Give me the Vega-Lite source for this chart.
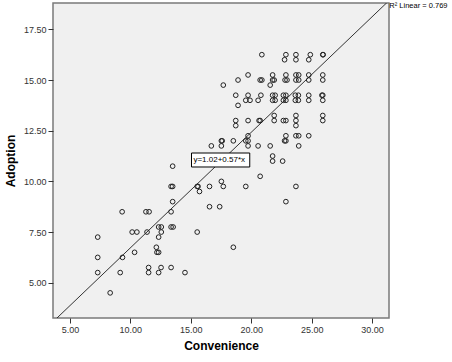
{
  "$schema": "https://vega.github.io/schema/vega-lite/v6.json",
  "autosize": {"type": "none"},
  "width": 336,
  "height": 315,
  "padding": {"left": 53, "top": 3, "right": 63, "bottom": 44},
  "background": "white",
  "config": {
    "view": {"fill": "#F0F0F0", "stroke": "#7a7a7a", "strokeWidth": 1.5},
    "font": "Liberation Sans",
    "axis": {
      "grid": false,
      "domain": false,
      "tickColor": "#333333",
      "tickSize": 5,
      "labelFont": "Liberation Sans",
      "labelFontSize": 9,
      "labelColor": "#333333",
      "labelPadding": 2,
      "titleFont": "Liberation Sans",
      "titleFontSize": 12,
      "titleFontWeight": "bold",
      "titleColor": "#000000"
    }
  },
  "datasets": {
    "pts": [
      {"Convenience": 20.88, "Adoption": 16.25}, {"Convenience": 22.87, "Adoption": 16.25}, {"Convenience": 23.70, "Adoption": 16.25}, {"Convenience": 24.89, "Adoption": 16.25}, {"Convenience": 25.92, "Adoption": 16.25}, {"Convenience": 25.95, "Adoption": 16.25},
      {"Convenience": 22.76, "Adoption": 16.0}, {"Convenience": 23.70, "Adoption": 16.0}, {"Convenience": 24.76, "Adoption": 16.0},
      {"Convenience": 19.74, "Adoption": 15.25}, {"Convenience": 21.77, "Adoption": 15.25}, {"Convenience": 22.87, "Adoption": 15.25}, {"Convenience": 23.70, "Adoption": 15.25}, {"Convenience": 23.93, "Adoption": 15.25}, {"Convenience": 24.76, "Adoption": 15.25}, {"Convenience": 25.92, "Adoption": 15.25},
      {"Convenience": 18.91, "Adoption": 15.0}, {"Convenience": 20.74, "Adoption": 15.0}, {"Convenience": 20.88, "Adoption": 15.0}, {"Convenience": 21.77, "Adoption": 15.0}, {"Convenience": 21.90, "Adoption": 15.0}, {"Convenience": 22.80, "Adoption": 15.0}, {"Convenience": 22.96, "Adoption": 15.0}, {"Convenience": 23.70, "Adoption": 15.0}, {"Convenience": 23.93, "Adoption": 15.0}, {"Convenience": 24.76, "Adoption": 15.0}, {"Convenience": 25.92, "Adoption": 15.0},
      {"Convenience": 17.69, "Adoption": 14.75}, {"Convenience": 21.57, "Adoption": 14.75},
      {"Convenience": 18.72, "Adoption": 14.25}, {"Convenience": 19.74, "Adoption": 14.25}, {"Convenience": 20.80, "Adoption": 14.25}, {"Convenience": 21.77, "Adoption": 14.25}, {"Convenience": 21.98, "Adoption": 14.25}, {"Convenience": 22.66, "Adoption": 14.25}, {"Convenience": 22.87, "Adoption": 14.25}, {"Convenience": 23.65, "Adoption": 14.25}, {"Convenience": 23.90, "Adoption": 14.25}, {"Convenience": 24.76, "Adoption": 14.25}, {"Convenience": 25.85, "Adoption": 14.25}, {"Convenience": 25.92, "Adoption": 14.25},
      {"Convenience": 19.55, "Adoption": 14.0}, {"Convenience": 19.90, "Adoption": 14.0}, {"Convenience": 20.57, "Adoption": 14.0}, {"Convenience": 21.77, "Adoption": 14.0}, {"Convenience": 21.98, "Adoption": 14.0}, {"Convenience": 22.66, "Adoption": 14.0}, {"Convenience": 22.87, "Adoption": 14.0}, {"Convenience": 23.65, "Adoption": 14.0}, {"Convenience": 23.90, "Adoption": 14.0}, {"Convenience": 24.76, "Adoption": 14.0}, {"Convenience": 25.92, "Adoption": 14.0},
      {"Convenience": 18.91, "Adoption": 13.75},
      {"Convenience": 21.90, "Adoption": 13.25}, {"Convenience": 23.70, "Adoption": 13.25}, {"Convenience": 25.92, "Adoption": 13.25},
      {"Convenience": 18.72, "Adoption": 13.0}, {"Convenience": 19.74, "Adoption": 13.0}, {"Convenience": 20.65, "Adoption": 13.0}, {"Convenience": 20.74, "Adoption": 13.0}, {"Convenience": 21.90, "Adoption": 13.0}, {"Convenience": 22.66, "Adoption": 13.0}, {"Convenience": 22.87, "Adoption": 13.0}, {"Convenience": 23.70, "Adoption": 13.0}, {"Convenience": 25.92, "Adoption": 13.0},
      {"Convenience": 18.72, "Adoption": 12.75}, {"Convenience": 23.70, "Adoption": 12.75},
      {"Convenience": 19.74, "Adoption": 12.25}, {"Convenience": 22.87, "Adoption": 12.25}, {"Convenience": 23.70, "Adoption": 12.25}, {"Convenience": 23.93, "Adoption": 12.25}, {"Convenience": 24.76, "Adoption": 12.25},
      {"Convenience": 17.53, "Adoption": 12.0}, {"Convenience": 17.60, "Adoption": 12.0}, {"Convenience": 18.52, "Adoption": 12.0}, {"Convenience": 19.55, "Adoption": 12.0}, {"Convenience": 19.74, "Adoption": 12.0}, {"Convenience": 22.76, "Adoption": 12.0}, {"Convenience": 22.87, "Adoption": 12.0},
      {"Convenience": 16.70, "Adoption": 11.75}, {"Convenience": 17.53, "Adoption": 11.75}, {"Convenience": 19.74, "Adoption": 11.75}, {"Convenience": 20.57, "Adoption": 11.75}, {"Convenience": 21.57, "Adoption": 11.75}, {"Convenience": 23.93, "Adoption": 11.75},
      {"Convenience": 21.77, "Adoption": 11.25},
      {"Convenience": 21.77, "Adoption": 11.0}, {"Convenience": 22.60, "Adoption": 11.0},
      {"Convenience": 13.50, "Adoption": 10.75},
      {"Convenience": 20.74, "Adoption": 10.25},
      {"Convenience": 17.53, "Adoption": 10.0},
      {"Convenience": 13.37, "Adoption": 9.75}, {"Convenience": 13.50, "Adoption": 9.75}, {"Convenience": 15.53, "Adoption": 9.75}, {"Convenience": 15.60, "Adoption": 9.75}, {"Convenience": 16.55, "Adoption": 9.75}, {"Convenience": 17.69, "Adoption": 9.75}, {"Convenience": 19.55, "Adoption": 9.75}, {"Convenience": 23.70, "Adoption": 9.75},
      {"Convenience": 15.72, "Adoption": 9.5},
      {"Convenience": 13.50, "Adoption": 9.0}, {"Convenience": 22.87, "Adoption": 9.0},
      {"Convenience": 16.55, "Adoption": 8.75}, {"Convenience": 17.39, "Adoption": 8.75},
      {"Convenience": 9.32, "Adoption": 8.5}, {"Convenience": 11.29, "Adoption": 8.5}, {"Convenience": 11.55, "Adoption": 8.5}, {"Convenience": 13.37, "Adoption": 8.5},
      {"Convenience": 12.34, "Adoption": 7.75}, {"Convenience": 12.56, "Adoption": 7.75}, {"Convenience": 13.37, "Adoption": 7.75}, {"Convenience": 13.54, "Adoption": 7.75},
      {"Convenience": 10.15, "Adoption": 7.5}, {"Convenience": 10.54, "Adoption": 7.5}, {"Convenience": 11.38, "Adoption": 7.5}, {"Convenience": 12.56, "Adoption": 7.5}, {"Convenience": 15.53, "Adoption": 7.5},
      {"Convenience": 7.30, "Adoption": 7.25}, {"Convenience": 12.34, "Adoption": 7.25},
      {"Convenience": 12.15, "Adoption": 6.75}, {"Convenience": 18.52, "Adoption": 6.75},
      {"Convenience": 10.35, "Adoption": 6.5}, {"Convenience": 12.20, "Adoption": 6.5}, {"Convenience": 12.34, "Adoption": 6.5},
      {"Convenience": 7.30, "Adoption": 6.25}, {"Convenience": 9.35, "Adoption": 6.25},
      {"Convenience": 11.51, "Adoption": 5.75}, {"Convenience": 12.54, "Adoption": 5.75}, {"Convenience": 13.37, "Adoption": 5.75},
      {"Convenience": 7.30, "Adoption": 5.5}, {"Convenience": 9.16, "Adoption": 5.5}, {"Convenience": 11.51, "Adoption": 5.5}, {"Convenience": 12.34, "Adoption": 5.5}, {"Convenience": 14.52, "Adoption": 5.5},
      {"Convenience": 8.33, "Adoption": 4.5}
    ],
    "fit": [
      {"Convenience": 3.6, "Adoption": 3.072},
      {"Convenience": 31.4, "Adoption": 18.918}
    ],
    "eqbox": [
      {"x1": 15.06, "x2": 19.88, "y1": 10.71, "y2": 11.40, "xc": 15.22, "yc": 11.05, "label": "y=1.02+0.57*x"}
    ],
    "r2": [
      {"x": 31.43, "y": 18.83, "label": "R² Linear = 0.769"}
    ]
  },
  "layer": [
    {
      "data": {"name": "fit"},
      "mark": {"type": "line", "color": "#333333", "strokeWidth": 1, "clip": true},
      "encoding": {
        "x": {"field": "Convenience", "type": "quantitative",
              "scale": {"domain": [3.6, 31.4], "nice": false, "zero": false},
              "axis": {"values": [5, 10, 15, 20, 25, 30], "format": ".2f", "title": "Convenience", "titlePadding": 6}},
        "y": {"field": "Adoption", "type": "quantitative",
              "scale": {"domain": [3.26, 18.8], "nice": false, "zero": false},
              "axis": {"values": [5, 7.5, 10, 12.5, 15, 17.5], "format": ".2f", "title": "Adoption", "titlePadding": 6}}
      }
    },
    {
      "data": {"name": "pts"},
      "mark": {"type": "point", "shape": "circle", "filled": false, "size": 22, "stroke": "#222222", "strokeWidth": 1, "opacity": 1},
      "encoding": {
        "x": {"field": "Convenience", "type": "quantitative"},
        "y": {"field": "Adoption", "type": "quantitative"}
      }
    },
    {
      "data": {"name": "eqbox"},
      "mark": {"type": "rect", "fill": "white", "stroke": "#000000", "strokeWidth": 1},
      "encoding": {
        "x": {"field": "x1", "type": "quantitative"},
        "x2": {"field": "x2"},
        "y": {"field": "y1", "type": "quantitative"},
        "y2": {"field": "y2"}
      }
    },
    {
      "data": {"name": "eqbox"},
      "mark": {"type": "text", "align": "left", "baseline": "middle", "fontSize": 8, "font": "Liberation Sans", "color": "#000000"},
      "encoding": {
        "x": {"field": "xc", "type": "quantitative"},
        "y": {"field": "yc", "type": "quantitative"},
        "text": {"field": "label"}
      }
    },
    {
      "data": {"name": "r2"},
      "mark": {"type": "text", "align": "left", "baseline": "top", "fontSize": 7.5, "font": "Liberation Sans", "color": "#000000", "clip": false},
      "encoding": {
        "x": {"field": "x", "type": "quantitative"},
        "y": {"field": "y", "type": "quantitative"},
        "text": {"field": "label"}
      }
    }
  ]
}
